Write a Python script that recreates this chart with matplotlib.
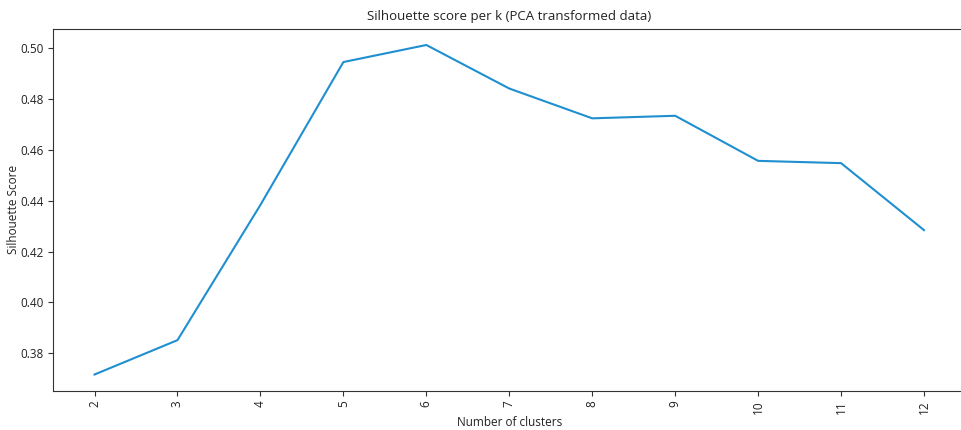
import matplotlib
matplotlib.use('Agg')
import matplotlib.pyplot as plt

plt.rcParams['font.family'] = ['Open Sans', 'DejaVu Sans']
plt.rcParams['font.size'] = 8.5

k = [2, 3, 4, 5, 6, 7, 8, 9, 10, 11, 12]
scores = [0.3717, 0.3852, 0.4383, 0.4944, 0.5011, 0.4840, 0.4723, 0.4733, 0.4556, 0.4547, 0.4284]

fig = plt.figure(figsize=(9.61, 4.3), dpi=100)
ax = fig.add_axes([0.0552, 0.0907, 0.9495, 0.843])

ax.plot(k, scores, color='#1f8fd0', linewidth=1.5)
ax.set_xticks(k)
ax.set_xticklabels([str(i) for i in k], rotation=90)
ax.set_title('Silhouette score per k (PCA transformed data)', fontsize=9.5, color='#222222')
ax.set_xlabel('Number of clusters', color='#222222', labelpad=1)
ax.set_ylabel('Silhouette Score', color='#222222')
ax.yaxis.set_label_coords(-0.036, 0.5)
ax.set_yticks([0.38, 0.40, 0.42, 0.44, 0.46, 0.48, 0.50])
ax.set_yticklabels(['0.38', '0.40', '0.42', '0.44', '0.46', '0.48', '0.50'])
for s in ax.spines.values():
    s.set_color('#333333')
ax.tick_params(colors='#333333', labelcolor='#222222')

fig.savefig('out.png', dpi=100)
